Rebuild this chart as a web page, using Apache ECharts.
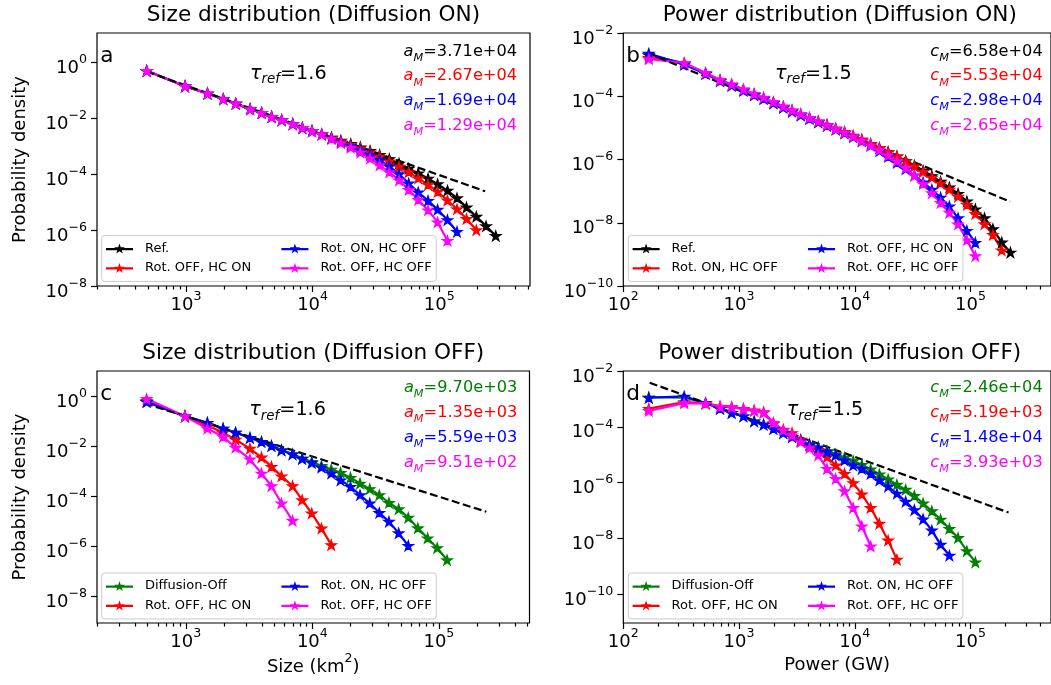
<!DOCTYPE html>
<html>
<head>
<meta charset="utf-8">
<script src="https://cdn.jsdelivr.net/npm/echarts@6/dist/echarts.min.js"></script>
<style>
  html, body { margin: 0; padding: 0; background: #ffffff; }
  #chart { width: 1051px; height: 685px; }
</style>
</head>
<body>
<div id="chart"></div>
<script>
// ---- bin centres ----
const sizeBins = [490, 984, 1480, 1970, 2470, 3210, 3960, 4750, 5700, 6970, 8300, 9890, 11800, 14100, 16700,
  20000, 23800, 28400, 33800, 40300, 48100, 57300, 68200, 81500, 97000, 116000, 138000, 164000, 196000, 234000, 279000];
const powerBins = [166, 336, 514, 685, 863, 1090, 1350, 1630, 1980, 2410, 2870, 3410, 4060, 4830, 5750,
  6840, 8150, 9680, 11500, 13700, 16300, 19400, 23100, 27500, 32700, 38900, 46300, 55100, 65600, 78000,
  92900, 110000, 132000, 156000, 186000, 221000];

// ---- size distribution, diffusion on ----
const sizeOnRef = [0.490, 0.138, 7.59e-2, 4.79e-2, 3.31e-2, 2.09e-2, 1.55e-2, 1.12e-2, 8.51e-3, 6.17e-3, 4.47e-3, 3.47e-3, 2.63e-3,
  2.04e-3, 1.58e-3, 1.20e-3, 9.12e-4, 6.76e-4, 4.90e-4, 3.47e-4, 2.40e-4, 1.58e-4, 1.07e-4, 6.92e-5, 4.37e-5, 2.57e-5, 1.38e-5,
  6.46e-6, 3.02e-6, 1.38e-6, 6.17e-7];
const sizeOnRotOffHcOn = [0.490, 0.138, 7.59e-2, 4.79e-2, 3.31e-2, 2.09e-2, 1.55e-2, 1.12e-2, 8.51e-3, 6.17e-3, 4.47e-3, 3.47e-3, 2.63e-3,
  2.00e-3, 1.51e-3, 1.12e-3, 8.32e-4, 6.03e-4, 4.27e-4, 2.88e-4, 1.86e-4, 1.17e-4, 7.08e-5, 4.17e-5, 2.34e-5, 1.15e-5, 5.62e-6,
  2.51e-6, 1.00e-6];
const sizeOnRotOnHcOff = [0.490, 0.138, 7.59e-2, 4.79e-2, 3.31e-2, 2.09e-2, 1.55e-2, 1.12e-2, 8.51e-3, 6.17e-3, 4.47e-3, 3.47e-3, 2.63e-3,
  1.91e-3, 1.38e-3, 1.00e-3, 7.08e-4, 4.90e-4, 3.16e-4, 1.91e-4, 1.00e-4, 4.68e-5, 2.24e-5, 1.12e-5, 5.37e-6, 2.29e-6, 8.71e-7];
const sizeOnRotOffHcOff = [0.490, 0.138, 7.59e-2, 4.79e-2, 3.31e-2, 2.09e-2, 1.55e-2, 1.12e-2, 8.51e-3, 6.17e-3, 4.47e-3, 3.47e-3, 2.63e-3,
  1.82e-3, 1.29e-3, 8.91e-4, 5.89e-4, 3.63e-4, 2.09e-4, 1.17e-4, 6.03e-5, 2.75e-5, 1.20e-5, 5.13e-6, 1.91e-6, 4.17e-7];

// ---- power distribution, diffusion on ----
const powerOnRef = [2.00e-3, 1.10e-3, 5.25e-4, 3.09e-4, 2.24e-4, 1.55e-4, 1.12e-4, 8.51e-5, 6.17e-5, 4.47e-5,
  3.39e-5, 2.57e-5, 2.00e-5, 1.55e-5, 1.20e-5, 9.12e-6, 7.08e-6, 5.37e-6, 4.07e-6, 3.02e-6,
  2.29e-6, 1.70e-6, 1.26e-6, 9.12e-7, 6.46e-7, 4.47e-7, 3.02e-7, 2.00e-7, 1.32e-7, 8.32e-8,
  4.79e-8, 2.69e-8, 1.41e-8, 6.31e-9, 2.40e-9, 1.15e-9];
const powerOnRotOnHcOff = [1.66e-3, 1.07e-3, 5.37e-4, 3.24e-4, 2.34e-4, 1.62e-4, 1.17e-4, 8.91e-5, 6.46e-5, 4.68e-5,
  3.55e-5, 2.69e-5, 2.09e-5, 1.62e-5, 1.26e-5, 9.77e-6, 7.59e-6, 5.75e-6, 4.37e-6, 3.16e-6,
  2.34e-6, 1.74e-6, 1.26e-6, 8.91e-7, 6.17e-7, 4.07e-7, 2.69e-7, 1.78e-7, 1.12e-7, 6.76e-8,
  3.72e-8, 1.91e-8, 9.12e-9, 4.17e-9, 1.35e-9];
const powerOnRotOffHcOn = [2.24e-3, 1.00e-3, 5.13e-4, 3.02e-4, 2.19e-4, 1.51e-4, 1.10e-4, 8.32e-5, 6.03e-5, 4.37e-5,
  3.31e-5, 2.51e-5, 1.95e-5, 1.51e-5, 1.17e-5, 8.91e-6, 6.76e-6, 5.13e-6, 3.80e-6, 2.75e-6,
  1.86e-6, 1.23e-6, 7.94e-7, 5.01e-7, 3.16e-7, 1.91e-7, 1.12e-7, 6.31e-8, 3.31e-8, 1.41e-8,
  5.62e-9, 2.34e-9];
const powerOnRotOffHcOff = [1.51e-3, 1.12e-3, 5.50e-4, 3.24e-4, 2.40e-4, 1.66e-4, 1.20e-4, 9.12e-5, 6.61e-5, 4.79e-5,
  3.63e-5, 2.75e-5, 2.09e-5, 1.62e-5, 1.23e-5, 9.33e-6, 7.08e-6, 5.37e-6, 3.89e-6, 2.82e-6,
  2.00e-6, 1.35e-6, 8.91e-7, 5.50e-7, 3.09e-7, 1.70e-7, 8.71e-8, 4.27e-8, 2.09e-8, 8.91e-9,
  2.82e-9, 8.91e-10];

// ---- size distribution, diffusion off ----
const sizeOffDiff = [0.575, 0.155, 8.51e-2, 5.01e-2, 3.47e-2, 2.14e-2, 1.48e-2, 1.02e-2, 6.92e-3, 4.79e-3, 3.24e-3, 2.34e-3, 1.62e-3,
  1.17e-3, 8.71e-4, 5.50e-4, 3.24e-4, 1.95e-4, 1.12e-4, 5.50e-5, 3.09e-5, 1.41e-5, 5.37e-6, 2.14e-6, 8.71e-7, 2.88e-7];
const sizeOffRotOffHcOn = [0.631, 0.155, 6.76e-2, 3.39e-2, 1.82e-2, 7.94e-3, 3.55e-3, 1.51e-3, 6.31e-4, 2.57e-4, 7.08e-5, 2.09e-5,
  5.25e-6, 1.15e-6];
const sizeOffRotOnHcOff = [0.575, 0.155, 8.51e-2, 5.01e-2, 3.47e-2, 2.14e-2, 1.48e-2, 1.02e-2, 6.76e-3, 4.68e-3, 3.09e-3, 2.14e-3,
  1.41e-3, 8.13e-4, 4.37e-4, 2.40e-4, 1.12e-4, 5.25e-5, 2.19e-5, 9.77e-6, 3.39e-6, 1.07e-6];
const sizeOffRotOffHcOff = [0.759, 0.155, 5.01e-2, 2.34e-2, 8.71e-3, 2.95e-3, 8.13e-4, 2.57e-4, 5.25e-5, 1.07e-5];

// ---- power distribution, diffusion off ----
const powerOffDiff = [1.15e-3, 1.12e-3, 7.08e-4, 4.47e-4, 3.16e-4, 2.40e-4, 1.58e-4, 1.20e-4, 8.51e-5, 6.03e-5,
  4.37e-5, 3.24e-5, 2.40e-5, 1.86e-5, 1.38e-5, 1.05e-5, 7.94e-6, 6.03e-6, 4.37e-6, 3.02e-6,
  2.00e-6, 1.32e-6, 8.51e-7, 5.62e-7, 3.39e-7, 1.82e-7, 9.55e-8, 4.79e-8, 2.24e-8, 1.05e-8,
  3.55e-9, 1.41e-9];
const powerOffRotOffHcOn = [4.47e-4, 7.76e-4, 7.08e-4, 5.37e-4, 5.13e-4, 4.47e-4, 3.89e-4, 3.39e-4, 1.29e-4, 7.94e-5,
  6.03e-5, 3.47e-5, 2.19e-5, 1.51e-5, 8.32e-6, 4.17e-6, 2.09e-6, 9.77e-7, 3.80e-7, 1.26e-7,
  3.39e-8, 8.51e-9, 1.74e-9];
const powerOffRotOnHcOff = [1.10e-3, 1.23e-3, 7.08e-4, 4.47e-4, 3.16e-4, 2.40e-4, 1.58e-4, 1.20e-4, 8.51e-5, 6.03e-5,
  4.37e-5, 3.16e-5, 2.29e-5, 1.78e-5, 1.26e-5, 9.55e-6, 6.31e-6, 4.17e-6, 3.16e-6, 2.09e-6,
  1.20e-6, 7.24e-7, 4.07e-7, 2.09e-7, 1.05e-7, 4.90e-8, 1.95e-8, 6.03e-9, 2.45e-9];
const powerOffRotOffHcOff = [3.72e-4, 7.08e-4, 6.76e-4, 5.25e-4, 5.01e-4, 4.27e-4, 3.72e-4, 3.16e-4, 1.41e-4, 7.59e-5,
  5.01e-5, 2.88e-5, 1.74e-5, 9.55e-6, 3.16e-6, 1.38e-6, 5.01e-7, 1.26e-7, 2.75e-8, 5.25e-9];

// ---- cutoff scales ----
const aMOn  = [3.71e4, 2.67e4, 1.69e4, 1.29e4];
const cMOn  = [6.58e4, 5.53e4, 2.98e4, 2.65e4];
const aMOff = [9.70e3, 1.35e3, 5.59e3, 9.51e2];
const cMOff = [2.46e4, 5.19e3, 1.48e4, 3.93e3];

// ---- reference power laws ----
const tauSize = 1.6;
const tauPower = 1.5;
const refSizeOnX = [490, 230000];    const refSizeOnY0 = 0.457;
const refPowerOnX = [164, 220000];   const refPowerOnY0 = 2.29e-3;
const refSizeOffX = [475, 237000];   const refSizeOffY0 = 0.501;
const refPowerOffX = [169, 213000];  const refPowerOffY0 = 3.80e-3;

// ---- legend labels ----
const labelsSizeOn  = ['Ref.', 'Rot. OFF, HC ON', 'Rot. ON, HC OFF', 'Rot. OFF, HC OFF'];
const labelsPowerOn = ['Ref.', 'Rot. ON, HC OFF', 'Rot. OFF, HC ON', 'Rot. OFF, HC OFF'];
const labelsOff     = ['Diffusion-Off', 'Rot. OFF, HC ON', 'Rot. ON, HC OFF', 'Rot. OFF, HC OFF'];

// ---- styling ----
const FONT = 'DejaVu Sans';
const colorsOn  = ['#000000', '#ff0000', '#0000ff', '#ff00ff'];
const colorsOff = ['#008000', '#ff0000', '#0000ff', '#ff00ff'];
const STAR = 'path://M0,-10L2.245,-3.09L9.511,-3.09L3.633,1.18L5.878,8.09L0,3.82L-5.878,8.09L-3.633,1.18L-9.511,-3.09L-2.245,-3.09Z';
// legend handle: a short line segment with a star on its middle
const LEGEND_HANDLE = 'path://M0,4.5L27,4.5L27,6.7L0,6.7Z' +
  'M13.5,0L14.76,3.87L18.83,3.87L15.53,6.26L16.79,10.13L13.5,7.74L10.21,10.13L11.47,6.26L8.17,3.87L12.24,3.87Z';

const panels = [
  { id: 'a', rect: [97, 33, 433, 253], xr: [2.298, 5.716], yr: [-8, 1.04], xMajor: [3, 4, 5], yMajor: [0, -2, -4, -6, -8],
    title: 'Size distribution (Diffusion ON)', titleTop: 4.3, bins: sizeBins, labels: labelsSizeOn, colors: colorsOn,
    values: [sizeOnRef, sizeOnRotOffHcOn, sizeOnRotOnHcOff, sizeOnRotOffHcOff],
    refX: refSizeOnX, refY0: refSizeOnY0, tau: tauSize, sym: 'a', cut: aMOn,
    yName: 'Probability density', xName: '',
    legendAt: [101.7, 235.5], letterAt: [100.3, 56.8], tauAt: [250, 75.5], cutAt: [517, 53.3, 24.8] },
  { id: 'b', rect: [623.3, 33, 433, 253], xr: [2, 5.695], yr: [-10, -2], xMajor: [2, 3, 4, 5], yMajor: [-2, -4, -6, -8, -10],
    title: 'Power distribution (Diffusion ON)', titleTop: 4.3, bins: powerBins, labels: labelsPowerOn, colors: colorsOn,
    values: [powerOnRef, powerOnRotOnHcOff, powerOnRotOffHcOn, powerOnRotOffHcOff],
    refX: refPowerOnX, refY0: refPowerOnY0, tau: tauPower, sym: 'c', cut: cMOn,
    yName: '', xName: '',
    legendAt: [628.3, 235.5], letterAt: [626.3, 56.8], tauAt: [775, 75.5], cutAt: [1042.7, 53.3, 24.8] },
  { id: 'c', rect: [97, 371, 432.5, 252], xr: [2.298, 5.716], yr: [-9.05, 0.99], xMajor: [3, 4, 5], yMajor: [0, -2, -4, -6, -8],
    title: 'Size distribution (Diffusion OFF)', titleTop: 342.3, bins: sizeBins, labels: labelsOff, colors: colorsOff,
    values: [sizeOffDiff, sizeOffRotOffHcOn, sizeOffRotOnHcOff, sizeOffRotOffHcOff],
    refX: refSizeOffX, refY0: refSizeOffY0, tau: tauSize, sym: 'a', cut: aMOff,
    yName: 'Probability density', xName: '{n|Size (km}{s|2}{n|)}',
    legendAt: [101.7, 573], letterAt: [100.3, 394.2], tauAt: [249.3, 412], cutAt: [517.3, 389.3, 25] },
  { id: 'd', rect: [623.3, 371, 433, 252], xr: [2, 5.695], yr: [-11.03, -2], xMajor: [2, 3, 4, 5], yMajor: [-2, -4, -6, -8, -10],
    title: 'Power distribution (Diffusion OFF)', titleTop: 342.3, bins: powerBins, labels: labelsOff, colors: colorsOff,
    values: [powerOffDiff, powerOffRotOffHcOn, powerOffRotOnHcOff, powerOffRotOffHcOff],
    refX: refPowerOffX, refY0: refPowerOffY0, tau: tauPower, sym: 'c', cut: cMOff,
    yName: '', xName: '{n|Power (GW)}',
    legendAt: [628.3, 573], letterAt: [626.3, 394.2], tauAt: [786.7, 412], cutAt: [1042.7, 389.3, 25] }
];

// ---- helpers ----
const log10 = Math.log10;
function expLabel(v) {
  const e = Math.round(v);
  return '{b|10}{s|' + (e < 0 ? '\u2212' + (-e) : String(e)) + '}';
}
function minorTicks(r) {
  const out = [];
  for (let n = Math.floor(r[0]); n <= Math.ceil(r[1]); n++) {
    for (let k = 2; k <= 9; k++) {
      const v = n + log10(k);
      if (v >= r[0] && v <= r[1]) out.push(v);
    }
  }
  return out;
}
function fmtE(v) {
  return v.toExponential(2).replace(/e([+-])(\d)$/, 'e$10$2');
}
const tickRich = {
  b: { fontFamily: FONT, fontSize: 18, lineHeight: 24, verticalAlign: 'bottom', color: '#000' },
  s: { fontFamily: FONT, fontSize: 12.6, lineHeight: 16, verticalAlign: 'top', color: '#000' }
};
const tickLine = { color: '#000', width: 1.2 };

const grid = [], xAxis = [], yAxis = [], series = [], legend = [], title = [], graphics = [];

panels.forEach((p, i) => {
  const [gl, gt, gw, gh] = p.rect;
  grid.push({ left: gl, top: gt, width: gw, height: gh, show: true, borderColor: '#000', borderWidth: 1.2,
              backgroundColor: 'transparent', containLabel: false });

  // decade ticks with labels
  xAxis.push({
    type: 'value', gridIndex: i, min: p.xr[0], max: p.xr[1], position: 'bottom',
    axisLine: { show: false, onZero: false }, splitLine: { show: false },
    axisTick: { show: true, customValues: p.xMajor, length: 6, lineStyle: tickLine },
    axisLabel: { show: true, customValues: p.xMajor, formatter: expLabel, margin: 4, rich: tickRich },
    name: p.xName, nameLocation: 'middle', nameGap: 27,
    nameTextStyle: { rich: {
      n: { fontFamily: FONT, fontSize: 18, lineHeight: 24, verticalAlign: 'bottom', color: '#000' },
      s: { fontFamily: FONT, fontSize: 12.6, lineHeight: 16, verticalAlign: 'top', color: '#000' } } }
  });
  // minor ticks along the same bottom edge
  xAxis.push({
    type: 'value', gridIndex: i, min: p.xr[0], max: p.xr[1], position: 'top', offset: -gh,
    axisLine: { show: false, onZero: false }, splitLine: { show: false }, axisLabel: { show: false },
    axisTick: { show: true, inside: true, customValues: minorTicks(p.xr), length: 3.5, lineStyle: tickLine }
  });
  yAxis.push({
    type: 'value', gridIndex: i, min: p.yr[0], max: p.yr[1], position: 'left',
    axisLine: { show: false, onZero: false }, splitLine: { show: false },
    axisTick: { show: true, customValues: p.yMajor, length: 6, lineStyle: tickLine },
    axisLabel: { show: true, customValues: p.yMajor, formatter: expLabel, margin: 10, padding: [6, 0, 0, 0], rich: tickRich },
    name: p.yName, nameLocation: 'middle', nameRotate: 90, nameGap: 68,
    nameTextStyle: { fontFamily: FONT, fontSize: 18, lineHeight: 18, color: '#000' }
  });

  p.values.forEach((vals, k) => {
    const c = p.colors[k];
    series.push({
      type: 'line', name: p.id + '|' + p.labels[k], xAxisIndex: 2 * i, yAxisIndex: i,
      data: vals.map((y, j) => [log10(p.bins[j]), log10(y)]),
      symbol: STAR, symbolSize: 10, symbolKeepAspect: true, showSymbol: true,
      lineStyle: { color: c, width: 2.2 }, itemStyle: { color: c, borderColor: c, borderWidth: 1.3 },
      emphasis: { disabled: true }, silent: true
    });
  });

  // reference power law of slope -tau
  const lx0 = log10(p.refX[0]), lx1 = log10(p.refX[1]), ly0 = log10(p.refY0);
  series.push({
    type: 'line', name: p.id + '|ref', xAxisIndex: 2 * i, yAxisIndex: i,
    data: [[lx0, ly0], [lx1, ly0 - p.tau * (lx1 - lx0)]],
    symbol: 'none', lineStyle: { color: '#000', width: 2.2, type: [8, 3.5] },
    emphasis: { disabled: true }, silent: true
  });

  legend.push({
    left: p.legendAt[0], top: p.legendAt[1], orient: 'horizontal', width: 345,
    icon: LEGEND_HANDLE, itemWidth: 27, itemHeight: 10.13, itemGap: 6.4, padding: [6.5, 4.5, 7, 4.3],
    itemStyle: { borderWidth: 0 },
    backgroundColor: 'rgba(255,255,255,0.8)', borderColor: '#cccccc', borderWidth: 1, borderRadius: 3,
    selectedMode: false,
    formatter: n => n.split('|')[1],
    textStyle: { fontFamily: FONT, fontSize: 13, color: '#000', lineHeight: 13, padding: [0, 0, 0, 7] },
    data: [0, 2, 1, 3].map(k => ({ name: p.id + '|' + p.labels[k], textStyle: k < 2 ? { width: 130 } : {} }))
  });

  title.push({
    text: p.title, left: gl + gw / 2, top: p.titleTop, textAlign: 'center', padding: 0,
    textStyle: { fontFamily: FONT, fontSize: 21.6, fontWeight: 'normal', color: '#000', lineHeight: 22 }
  });

  graphics.push({
    type: 'text', x: p.letterAt[0], y: p.letterAt[1], silent: true,
    style: { text: p.id, fill: '#000', fontFamily: FONT, fontSize: 21.6, align: 'left', verticalAlign: 'middle' }
  });
  graphics.push({
    type: 'text', x: p.tauAt[0], y: p.tauAt[1], silent: true,
    style: {
      text: '{t|\u03c4}{r|ref}{n|=' + p.tau + '}', fill: '#000', align: 'left', verticalAlign: 'middle',
      rich: {
        t: { fontFamily: FONT, fontSize: 19.2, fontStyle: 'italic', lineHeight: 22, verticalAlign: 'top', fill: '#000' },
        r: { fontFamily: FONT, fontSize: 13.4, fontStyle: 'italic', lineHeight: 14, verticalAlign: 'bottom', fill: '#000' },
        n: { fontFamily: FONT, fontSize: 19.2, lineHeight: 22, verticalAlign: 'top', fill: '#000' }
      }
    }
  });
  p.cut.forEach((v, k) => {
    const c = p.colors[k];
    graphics.push({
      type: 'text', x: p.cutAt[0], y: p.cutAt[1] + k * p.cutAt[2], silent: true,
      style: {
        text: '{i|' + p.sym + '}{m|M}{n|=' + fmtE(v) + '}', fill: c, align: 'right', verticalAlign: 'middle',
        rich: {
          i: { fontFamily: FONT, fontSize: 16.2, fontStyle: 'italic', lineHeight: 20, verticalAlign: 'top', fill: c },
          m: { fontFamily: FONT, fontSize: 11.3, fontStyle: 'italic', lineHeight: 12, verticalAlign: 'bottom', fill: c },
          n: { fontFamily: FONT, fontSize: 16.2, lineHeight: 20, verticalAlign: 'top', fill: c }
        }
      }
    });
  });
});

const chart = echarts.init(document.getElementById('chart'), null, { renderer: 'canvas', width: 1051, height: 685 });
chart.setOption({
  backgroundColor: '#ffffff',
  animation: false,
  title, grid, xAxis, yAxis, series, legend,
  graphic: { elements: graphics }
});
</script>
</body>
</html>
